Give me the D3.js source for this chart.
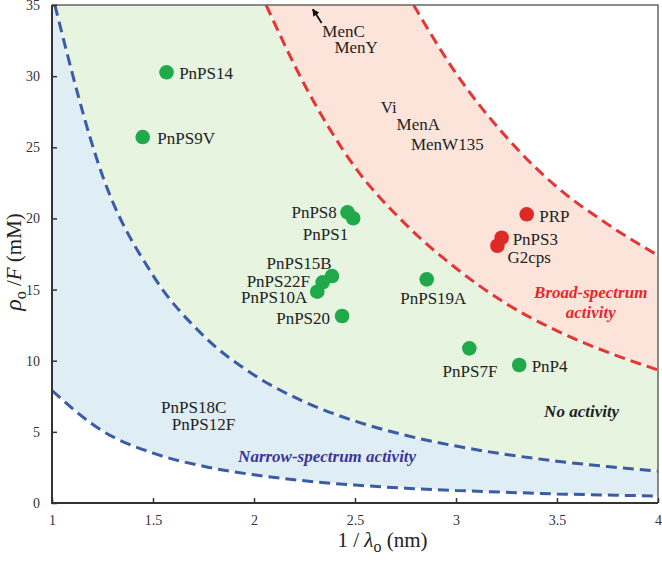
<!DOCTYPE html>
<html><head><meta charset="utf-8">
<script src="https://cdn.jsdelivr.net/npm/d3@7"></script>
<style>
html,body{margin:0;padding:0;background:#fff;}
svg{display:block;}
</style></head>
<body><svg id="c" width="662" height="563" font-family="'Liberation Serif', 'DejaVu Serif', serif"></svg>
<script>
// ---- data ----
const xTicks = [1, 1.5, 2, 2.5, 3, 3.5, 4];
const xTickLabels = ["1", "1.5", "2", "2.5", "3", "3.5", "4"];
const yTicks = [0, 5, 10, 15, 20, 25, 30, 35];
const yTickLabels = ["0", "5", "10", "15", "20", "25", "30", "35"];

// boundary curves: [x, y]
const narrowLow = [[1,7.9],[1.25,5.06],[1.5,3.51],[1.75,2.58],[2,1.98],[2.25,1.56],[2.5,1.26],[2.75,1.04],[3,0.88],[3.25,0.75],[3.5,0.64],[3.75,0.56],[4,0.49]];
const narrowHigh = [[1.014,35],[1.25,23.0],[1.5,16.0],[1.75,11.76],[2,9.0],[2.25,7.11],[2.5,5.76],[2.75,4.76],[3,4.0],[3.25,3.41],[3.5,2.94],[3.75,2.56],[4,2.25]];
const broadLow = [[2.06,35],[2.25,29.4],[2.5,23.6],[2.75,19.6],[3,16.5],[3.25,14.0],[3.5,12.1],[3.75,10.6],[4,9.35]];
const broadHigh = [[2.79,35],[3,30.2],[3.25,25.7],[3.5,22.2],[3.75,19.6],[4,17.4]];

// points
const greenNames = ["PnPS14","PnPS9V","PnPS8","PnPS1","PnPS15B","PnPS22F","PnPS10A","PnPS20","PnPS19A","PnPS7F","PnP4"];
const greenX = [1.567, 1.449, 2.463, 2.491, 2.386, 2.340, 2.313, 2.436, 2.855, 3.066, 3.313];
const greenY = [30.27, 25.72, 20.43, 20.01, 15.95, 15.51, 14.85, 13.14, 15.72, 10.87, 9.70];
const redNames = ["PRP","PnPS3","G2cps"];
const redX = [3.350, 3.226, 3.205];
const redY = [20.29, 18.64, 18.08];

// unplotted (text only) names
const textNames = ["MenC","MenY","Vi","MenA","MenW135","PnPS18C","PnPS12F"];
const textX = [2.338, 2.398, 2.627, 2.706, 2.777, 1.540, 1.593];
const textY = [32.77, 31.60, 27.41, 26.21, 24.81, 6.30, 5.13];

// region annotations
const regionLines = [["Broad-spectrum","activity"],["No activity"],["Narrow-spectrum activity"]];
const regionX = [3.667, 3.622, 2.362];
const regionY = [14.39, 6.07, 2.90];

// arrow (tail -> tip)
const arrowFrom = [2.335, 33.74];
const arrowTo = [2.291, 34.70];

// ---- layout / style ----
const FONT = "'Liberation Serif', 'DejaVu Serif', serif";
const L = 52, R = 658, T = 5, B = 503;
const greenOff = {PnPS14:[12.6,6.7,"start"],PnPS9V:[14.6,7,"start"],PnPS8:[-10.7,6,"end"],PnPS1:[-5,21.7,"end"],
  PnPS15B:[-0.3,-7,"end"],PnPS22F:[-12.7,4.4,"end"],PnPS10A:[-10,11.6,"end"],PnPS20:[-12,8.3,"end"],
  PnPS19A:[6.6,24.7,"middle"],PnPS7F:[0.7,28.4,"middle"],PnP4:[12.4,6.7,"start"]};
const redOff = {PRP:[12.6,7.4,"start"],PnPS3:[11,7.3,"start"],G2cps:[10,17.6,"start"]};
const regionColors = ["#e8272c","#1f1f1f","#3b3598"];

const svg = d3.select("#c");
const x = d3.scaleLinear().domain([1,4]).range([L,R]);
const y = d3.scaleLinear().domain([0,35]).range([B,T]);

const line = d3.line().x(d=>x(d[0])).y(d=>y(d[1])).curve(d3.curveMonotoneX);
function below(pts){
  return line(pts) + `L${x(4)},${y(0)}L${x(1)},${y(0)}L${x(1)},${y(pts[0][1])}Z`;
}
svg.append("defs").append("clipPath").attr("id","plot").append("rect")
  .attr("x",L).attr("y",T).attr("width",R-L).attr("height",B-T);
const g = svg.append("g").attr("clip-path","url(#plot)");
g.append("path").attr("d",below(broadHigh)).attr("fill","#fde4db");
g.append("path").attr("d",below(broadLow)).attr("fill","#e6f4e0");
g.append("path").attr("d",below(narrowHigh)).attr("fill","#dfedf5");
g.append("path").attr("d",below(narrowLow)).attr("fill","#ffffff");

const curves = [[narrowLow,"#3a5ba6"],[narrowHigh,"#3a5ba6"],[broadLow,"#e53535"],[broadHigh,"#e53535"]];
curves.forEach(([pts,col])=>{
  g.append("path").attr("d",line(pts)).attr("fill","none").attr("stroke","#fff").attr("stroke-width",1.2);
  g.append("path").attr("d",line(pts)).attr("fill","none").attr("stroke",col)
    .attr("stroke-width",3).attr("stroke-dasharray","11,6");
});

// frame
svg.append("path").attr("d",`M${L},${T}H${R}V${B}`).attr("fill","none").attr("stroke","#666").attr("stroke-width",1.5);
svg.append("path").attr("d",`M${L},${T}V${B}H${R}`).attr("fill","none").attr("stroke","#333").attr("stroke-width",2);

// axes
const xa = svg.append("g").attr("transform",`translate(0,${B})`)
  .call(d3.axisBottom(x).tickValues(xTicks).tickSize(-5).tickPadding(12).tickFormat((d,i)=>xTickLabels[i]));
const ya = svg.append("g").attr("transform",`translate(${L},0)`)
  .call(d3.axisLeft(y).tickValues(yTicks).tickSize(-5).tickPadding(12).tickFormat((d,i)=>yTickLabels[i]));
[xa,ya].forEach(a=>{
  a.attr("font-family",FONT);
  a.select(".domain").remove();
  a.selectAll("line").attr("stroke","#333").attr("stroke-width",1.5);
  a.selectAll("text").attr("font-family",FONT).attr("font-size",14).attr("fill","#333");
});

// points
const pts = svg.append("g");
greenNames.forEach((n,i)=>{
  const cx = x(greenX[i]), cy = y(greenY[i]);
  pts.append("circle").attr("cx",cx).attr("cy",cy).attr("r",7.3).attr("fill","#1fa94b");
  const o = greenOff[n];
  pts.append("text").attr("x",cx+o[0]).attr("y",cy+o[1]).attr("text-anchor",o[2])
    .attr("font-family",FONT).attr("font-size",17).attr("fill","#222").text(n);
});
redNames.forEach((n,i)=>{
  const cx = x(redX[i]), cy = y(redY[i]);
  pts.append("circle").attr("cx",cx).attr("cy",cy).attr("r",7.3).attr("fill","#de2a26");
  const o = redOff[n];
  pts.append("text").attr("x",cx+o[0]).attr("y",cy+o[1]).attr("text-anchor",o[2])
    .attr("font-family",FONT).attr("font-size",17).attr("fill","#222").text(n);
});
textNames.forEach((n,i)=>{
  svg.append("text").attr("x",x(textX[i])).attr("y",y(textY[i])).attr("font-family",FONT)
    .attr("font-size",17).attr("fill","#222").text(n);
});

// arrow
svg.append("defs").append("marker").attr("id","ah").attr("viewBox","0 0 10 10").attr("refX",9).attr("refY",5)
  .attr("markerWidth",4).attr("markerHeight",4).attr("orient","auto")
  .append("path").attr("d","M0,0L10,5L0,10Z").attr("fill","#111");
svg.append("line").attr("x1",x(arrowFrom[0])).attr("y1",y(arrowFrom[1]))
  .attr("x2",x(arrowTo[0])).attr("y2",y(arrowTo[1])).attr("stroke","#111").attr("stroke-width",1.8)
  .attr("marker-end","url(#ah)");

// region labels
regionLines.forEach((lines,i)=>{
  lines.forEach((t,j)=>{
    svg.append("text").attr("x",x(regionX[i])).attr("y",y(regionY[i])+j*20).attr("text-anchor","middle")
      .attr("font-family",FONT).attr("font-size",17).attr("font-weight","bold").attr("font-style","italic")
      .attr("fill",regionColors[i]).text(t);
  });
});

// axis titles
const xt = svg.append("text").attr("x",382.5).attr("y",547).attr("text-anchor","middle")
  .attr("font-family",FONT).attr("font-size",21).attr("fill","#222");
xt.append("tspan").text("1 / ");
xt.append("tspan").attr("font-style","italic").text("λ");
xt.append("tspan").attr("dy",5).attr("font-size",16).text("o");
xt.append("tspan").attr("dy",-5).text(" (nm)");

const yt = svg.append("text").attr("transform","translate(21,262) rotate(-90)").attr("text-anchor","middle")
  .attr("font-family",FONT).attr("font-size",21).attr("fill","#222");
yt.append("tspan").attr("font-style","italic").attr("font-size",24).text("ρ");
yt.append("tspan").attr("dy",5).attr("font-size",16).text("o");
yt.append("tspan").attr("dy",-5).text(" /");
yt.append("tspan").attr("font-style","italic").text("F");
yt.append("tspan").text(" (mM)");
</script></body></html>
